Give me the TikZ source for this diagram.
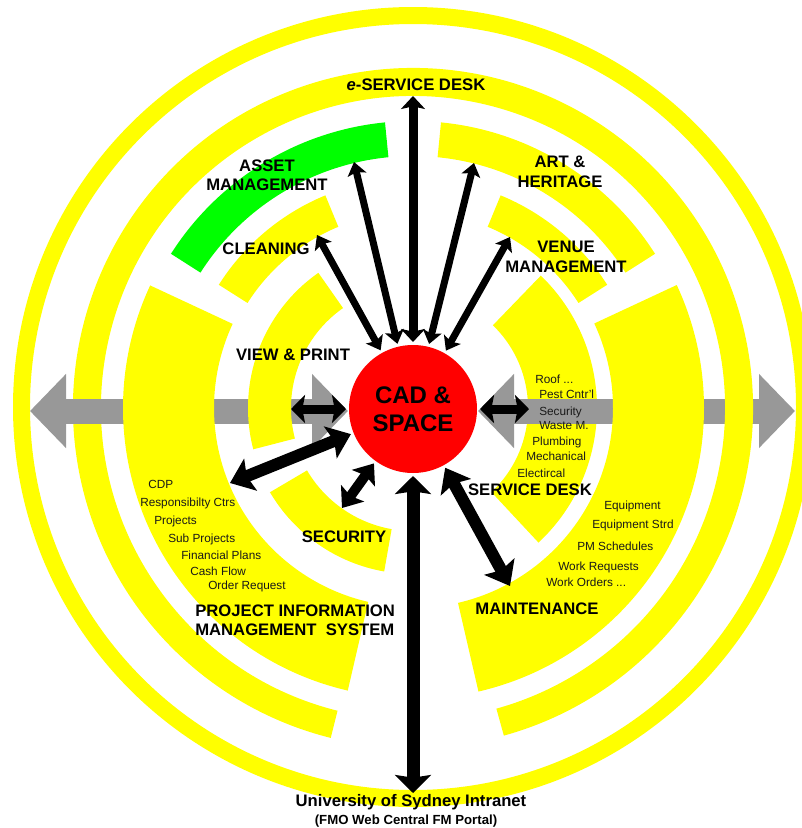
\documentclass[tikz,border=0pt]{standalone}
\usepackage{fontspec}
\setmainfont{Liberation Sans}
\usetikzlibrary{arrows.meta,calc}

\definecolor{ringyellow}{HTML}{FFFF00}
\definecolor{assetgreen}{HTML}{00FF00}
\definecolor{cadred}{HTML}{FF0000}
\definecolor{bargray}{HTML}{989898}

% annular band between two visual angles (counter-clockwise, degrees)
% #1 start angle, #2 end angle, #3 inner radius, #4 outer radius, #5 fill
\newcommand{\ringband}[5]{%
  \fill[#5] ([shift={({-(#1)}:#4)}]O) arc[start angle={-(#1)}, end angle={-(#2)}, radius=#4]
    -- ([shift={({-(#2)}:#3)}]O) arc[start angle={-(#2)}, end angle={-(#1)}, radius=#3] -- cycle;}

\tikzset{
  lbl/.style={font=\bfseries\fontsize{12.5}{14.6}\selectfont, align=center, inner sep=0pt, text=black},
  item/.style={font=\fontsize{8.85}{10}\selectfont, anchor=base west, inner sep=0pt, text=black!90},
  smallarr/.style={line width=5.25pt, {Stealth[length=9.75pt,width=14.25pt,inset=2pt]}-{Stealth[length=9.75pt,width=14.25pt,inset=2pt]}},
  toparr/.style={line width=6.75pt, {Stealth[length=9.75pt,width=18pt,inset=2pt]}-{Stealth[length=9.75pt,width=18pt,inset=2pt]}},
  sidearr/.style={line width=6.75pt, {Stealth[length=10.5pt,width=21pt,inset=2pt]}-{Stealth[length=10.5pt,width=21pt,inset=2pt]}},
  bigarr/.style={line width=9pt, {Stealth[length=16.5pt,width=25.5pt,inset=3pt]}-{Stealth[length=16.5pt,width=25.5pt,inset=3pt]}},
  midarr/.style={line width=7.5pt, {Stealth[length=13.5pt,width=21pt,inset=2.5pt]}-{Stealth[length=13.5pt,width=21pt,inset=2.5pt]}},
  longarr/.style={line width=9.75pt, {Stealth[length=13.5pt,width=27pt,inset=2pt]}-{Stealth[length=13.5pt,width=27pt,inset=2pt]}},
  grayarr/.style={draw=bargray, line width=18.75pt, {Triangle[length=27pt,width=54pt]}-{Triangle[length=27pt,width=54pt]}},
}

\begin{document}
\begin{tikzpicture}[x=0.75pt, y=-0.75pt]
\useasboundingbox (0,0) rectangle (802,828);
\clip (0,0) rectangle (802,828);

\coordinate (O) at (413,408);

% outer closed ring
\fill[ringyellow, even odd rule] (413,407) circle[radius=400] (413,407) circle[radius=383];

% service desk band (right, innermost)
\ringband{-47}{46}{115}{184}{ringyellow}

% right grey block arrow
\coordinate (grA) at (478,411);
\coordinate (grB) at (795,411);
\draw[grayarr] (grA) -- (grB);

% second ring, open at the bottom
\ringband{-74.5}{256}{312}{340}{ringyellow}

% left grey block arrow
\coordinate (glA) at (30,411);
\coordinate (glB) at (348,411);
\draw[grayarr] (glA) -- (glB);

% large sectors
\ringband{155}{257}{199}{290}{ringyellow}
\ringband{-77}{25}{200}{291}{ringyellow}

% third ring
\ringband{95.6}{147.5}{252}{287}{assetgreen}
\ringband{32.5}{84.4}{252}{287}{ringyellow}

% fourth ring
\ringband{112.4}{147.6}{196}{230}{ringyellow}
\ringband{32.4}{67.6}{196}{230}{ringyellow}

% fifth ring
\ringband{125}{194.5}{122}{165}{ringyellow}
\ringband{210.5}{260}{123}{166}{ringyellow}

% centre
\node[circle, fill=cadred, minimum size=96pt, inner sep=0pt, outer sep=2.25pt,
      font=\bfseries\fontsize{18}{21}\selectfont, align=center] (cad) at (413,409) {CAD \&\\SPACE};

% arrow end points on the rings
\coordinate (tESD) at (413,96);
\coordinate (tAsset) at (354,162);
\coordinate (tArt) at (474,163);
\coordinate (tClean) at (317,235);
\coordinate (tVenue) at (510,237);
\coordinate (tView) at (291,409);
\coordinate (tSD) at (529,409);
\coordinate (tPims) at (230,483);
\coordinate (tSec) at (342,508);
\coordinate (tMaint) at (510,586);
\coordinate (tNet) at (413,793);

\draw[toparr] (cad) -- (tESD);
\draw[smallarr] (cad) -- (tAsset);
\draw[smallarr] (cad) -- (tArt);
\draw[smallarr] (cad) -- (tClean);
\draw[smallarr] (cad) -- (tVenue);
\draw[sidearr] (cad) -- (tView);
\draw[sidearr] (cad) -- (tSD);
\draw[bigarr] (cad) -- (tPims);
\draw[midarr] (cad) -- (tSec);
\draw[bigarr] (cad) -- (tMaint);
\draw[longarr] (cad) -- (tNet);

% labels
\node[lbl] (esd) at (416,85) {\textit{e}-SERVICE DESK};
\node[lbl] (asset) at (267,175) {ASSET\\MANAGEMENT};
\node[lbl] (art) at (560,172) {ART \&\\HERITAGE};
\node[lbl] (clean) at (266,249) {CLEANING};
\node[lbl] (venue) at (566,257) {VENUE\\MANAGEMENT};
\node[lbl] (view) at (293,355) {VIEW \& PRINT};
\node[lbl] (sec) at (344,537) {SECURITY};
\node[lbl, align=left, anchor=west] (pims) at (195,620) {PROJECT INFORMATION\\MANAGEMENT\ \ SYSTEM};
\node[lbl] (sdesk) at (530,490) {SERVICE DESK};
\node[lbl] (maint) at (537,609) {MAINTENANCE};
\node[lbl] (net) at (411,802) {University of Sydney Intranet};
\node[lbl, font=\bfseries\fontsize{9.9}{12}\selectfont] (portal) at (406,821) {(FMO Web Central FM Portal)};

% project items
\node[item] (cdp) at (148,488) {CDP};
\node[item] (resp) at (140,506) {Responsibilty Ctrs};
\node[item] (proj) at (154,524) {Projects};
\node[item] (subp) at (168,542) {Sub Projects};
\node[item] (finp) at (181,559) {Financial Plans};
\node[item] (cash) at (190,575) {Cash Flow};
\node[item] (order) at (208,589) {Order Request};

% service desk items
\node[item] (roof) at (535,383) {Roof ...};
\node[item] (pest) at (539,398) {Pest Cntr'l};
\node[item] (secu) at (539,415) {Security};
\node[item] (waste) at (539,429) {Waste M.};
\node[item] (plumb) at (532,445) {Plumbing};
\node[item] (mech) at (526,460) {Mechanical};
\node[item] (elec) at (517,477) {Electircal};

% maintenance items
\node[item] (equip) at (604,509) {Equipment};
\node[item] (estrd) at (592,528) {Equipment Strd};
\node[item] (pms) at (577,550) {PM Schedules};
\node[item] (wreq) at (558,570) {Work Requests};
\node[item] (word) at (546,586) {Work Orders ...};
\end{tikzpicture}
\end{document}
